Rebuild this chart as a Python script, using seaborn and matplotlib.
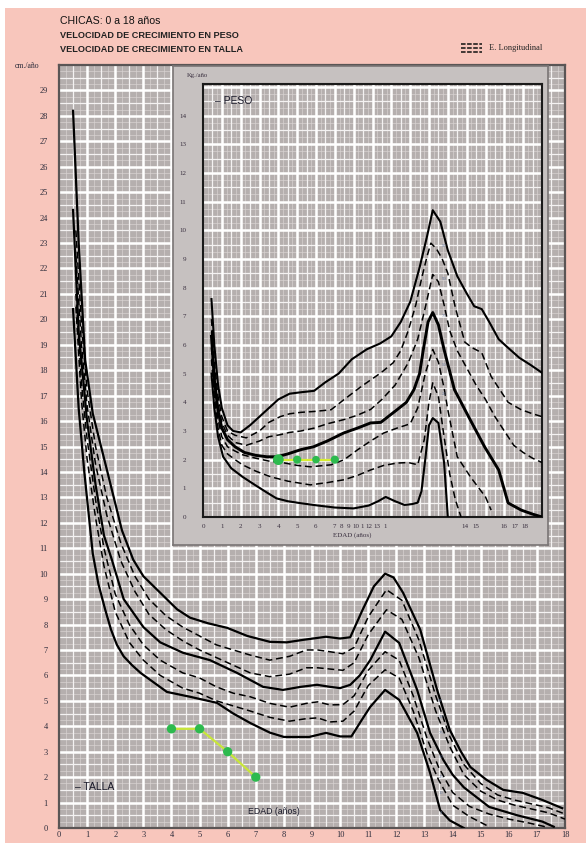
import numpy as np
import pandas as pd
import matplotlib
matplotlib.use("Agg")
import matplotlib.pyplot as plt
import seaborn as sns
from matplotlib.patches import Rectangle
from matplotlib.lines import Line2D

# ---- TALLA (cm/año), percentiles 97..3
talla_x97 = [0.5, 0.7, 0.93, 1.2, 1.7, 2.24, 2.64, 3.0, 3.6, 4.2, 4.66, 5.3, 5.98, 6.7, 7.5, 8.1, 8.7, 9.5, 10.0, 10.36, 10.8, 11.2, 11.6, 11.9, 12.24, 12.85, 13.45, 13.9, 14.3, 14.63, 15.2, 15.8, 16.5, 17.2, 17.9]
talla_y97 = [28.2, 23.0, 18.4, 16.3, 14.1, 11.7, 10.55, 9.9, 9.25, 8.6, 8.27, 8.05, 7.87, 7.55, 7.32, 7.3, 7.4, 7.52, 7.45, 7.5, 8.58, 9.5, 10.0, 9.85, 9.25, 7.8, 5.43, 3.86, 3.0, 2.4, 1.9, 1.5, 1.38, 1.1, 0.78]

talla_x90 = [0.6, 0.8, 1.0, 1.3, 1.7, 2.2, 2.7, 3.2, 3.8, 4.4, 5.0, 5.6, 6.2, 6.8, 7.5, 8.2, 8.8, 9.2, 9.64, 10.1, 10.5, 11.0, 11.65, 12.2, 12.8, 13.4, 13.9, 14.4, 15.0, 15.6, 16.2, 16.8, 17.4, 18.0]
talla_y90 = [23.5, 19.8, 17.2, 15.0, 13.0, 11.2, 9.9, 9.0, 8.35, 7.9, 7.55, 7.2, 7.0, 6.8, 6.6, 6.75, 7.0, 7.0, 6.93, 6.85, 7.1, 8.3, 9.37, 8.95, 7.4, 5.2, 3.6, 2.5, 1.75, 1.3, 1.1, 0.95, 0.8, 0.55]
talla_y75 = [22.5, 19.0, 16.6, 14.3, 12.3, 10.5, 9.3, 8.4, 7.8, 7.36, 7.0, 6.7, 6.4, 6.1, 5.95, 6.05, 6.3, 6.3, 6.25, 6.2, 6.5, 7.6, 8.58, 8.2, 6.7, 4.6, 3.2, 2.1, 1.45, 1.1, 0.9, 0.75, 0.6, 0.35]

talla_x50 = [0.5, 0.7, 1.0, 1.3, 1.6, 1.88, 2.3, 3.0, 3.6, 4.41, 5.37, 6.33, 7.26, 7.97, 8.6, 9.18, 9.64, 10.0, 10.36, 10.7, 11.07, 11.6, 12.1, 12.74, 13.2, 13.67, 14.0, 14.4, 15.3, 16.3, 17.2, 17.6]
talla_y50 = [24.3, 19.5, 16.0, 13.5, 11.5, 10.55, 9.0, 7.9, 7.3, 6.89, 6.6, 6.1, 5.55, 5.43, 5.55, 5.63, 5.55, 5.5, 5.63, 6.0, 6.6, 7.72, 7.28, 5.43, 3.74, 2.68, 2.1, 1.6, 0.83, 0.5, 0.25, 0.05]

talla_x25 = [0.6, 0.8, 1.0, 1.3, 1.6, 2.0, 2.5, 3.0, 3.6, 4.4, 5.0, 5.6, 6.2, 6.8, 7.5, 8.2, 8.8, 9.2, 9.64, 10.1, 10.5, 11.0, 11.6, 12.1, 12.6, 13.1, 13.5, 14.0, 14.6, 15.3, 16.0, 16.7, 17.3]
talla_y25 = [21.0, 17.5, 15.3, 12.9, 11.0, 9.2, 8.0, 7.2, 6.6, 6.1, 5.9, 5.55, 5.3, 5.16, 4.9, 4.75, 4.9, 4.96, 4.84, 4.85, 5.2, 6.2, 6.93, 6.6, 5.2, 3.5, 2.4, 1.4, 0.85, 0.55, 0.35, 0.2, 0.05]
talla_x10 = [0.6, 0.8, 1.0, 1.3, 1.6, 2.0, 2.5, 3.0, 3.6, 4.4, 5.0, 5.6, 6.2, 6.8, 7.5, 8.2, 8.8, 9.2, 9.64, 10.1, 10.5, 11.0, 11.6, 12.1, 12.6, 13.1, 13.5, 14.0, 14.6, 15.3]
talla_y10 = [20.5, 16.8, 14.5, 12.2, 10.3, 8.5, 7.3, 6.6, 6.0, 5.5, 5.3, 5.0, 4.8, 4.6, 4.35, 4.2, 4.3, 4.33, 4.17, 4.2, 4.6, 5.6, 6.22, 5.9, 4.6, 2.9, 1.9, 0.9, 0.45, 0.05]

talla_x3 = [0.5, 0.7, 0.9, 1.2, 1.4, 1.64, 1.85, 2.06, 2.3, 2.6, 2.9, 3.4, 3.84, 4.66, 5.62, 6.2, 6.8, 7.5, 8.0, 8.9, 9.5, 10.0, 10.4, 10.8, 11.07, 11.6, 12.1, 12.74, 13.2, 13.56, 13.9, 14.4]
talla_y3 = [20.4, 16.5, 14.0, 10.8, 9.6, 8.6, 7.8, 7.2, 6.75, 6.4, 6.1, 5.7, 5.35, 5.16, 4.92, 4.5, 4.13, 3.75, 3.58, 3.58, 3.74, 3.6, 3.6, 4.3, 4.76, 5.43, 5.04, 3.74, 2.17, 0.7, 0.3, 0.0]

# ---- PESO (kg/año)
peso_x97 = [0.45, 0.6, 0.8, 1.0, 1.3, 1.6, 2.0, 2.5, 3.0, 3.5, 4.0, 4.6, 5.2, 5.9, 6.5, 7.2, 7.9, 8.7, 9.4, 10.0, 10.5, 11.0, 11.5, 11.9, 12.2, 12.6, 13.0, 13.5, 14.0, 14.4, 14.8, 15.2, 15.7, 16.2, 16.8, 17.4, 18.0]
peso_y97 = [7.6, 6.0, 4.6, 3.8, 3.2, 3.0, 2.95, 3.2, 3.5, 3.8, 4.1, 4.3, 4.35, 4.4, 4.7, 5.0, 5.5, 5.85, 6.05, 6.3, 6.8, 7.5, 8.7, 9.8, 10.7, 10.3, 9.3, 8.4, 7.8, 7.35, 7.25, 6.8, 6.2, 5.9, 5.55, 5.3, 5.03]

peso_x90 = [0.45, 0.6, 0.8, 1.0, 1.3, 1.7, 2.3, 3.0, 3.5, 4.1, 4.6, 5.2, 5.9, 6.8, 7.5, 8.4, 9.45, 10.1, 10.5, 10.9, 11.3, 11.6, 11.9, 12.1, 12.4, 12.7, 13.0, 13.4, 13.9, 14.3, 14.8, 15.3, 15.8, 16.2, 16.9, 17.5, 18.0]
peso_y90 = [6.9, 5.4, 4.2, 3.5, 3.0, 2.85, 2.76, 3.0, 3.3, 3.5, 3.6, 3.65, 3.68, 3.74, 4.1, 4.55, 5.03, 5.38, 5.8, 6.5, 7.4, 8.3, 9.1, 9.55, 9.35, 9.0, 8.5, 7.3, 6.1, 5.9, 5.73, 4.9, 4.4, 4.0, 3.74, 3.6, 3.5]

peso_x75 = [0.45, 0.6, 0.8, 1.0, 1.3, 1.7, 2.3, 3.0, 3.5, 4.1, 4.6, 5.2, 5.9, 6.6, 7.5, 8.2, 8.9, 9.5, 10.2, 10.9, 11.4, 11.8, 12.2, 12.5, 12.8, 13.1, 13.5, 14.0, 14.5, 15.0, 15.5, 16.0, 16.5, 17.0, 17.5, 18.0]
peso_y75 = [6.5, 5.0, 3.9, 3.3, 2.85, 2.6, 2.5, 2.65, 2.8, 2.87, 2.95, 3.0, 3.1, 3.25, 3.4, 3.55, 3.75, 4.1, 4.6, 5.38, 6.2, 7.3, 8.46, 8.2, 7.4, 6.5, 5.8, 5.2, 4.6, 4.1, 3.5, 3.0, 2.5, 2.25, 2.05, 1.9]

peso_x50 = [0.45, 0.6, 0.8, 1.0, 1.3, 1.7, 2.2, 2.8, 3.4, 3.94, 4.5, 5.2, 5.87, 6.6, 7.47, 8.2, 8.9, 9.44, 10.3, 10.8, 11.2, 11.5, 11.7, 11.95, 12.2, 12.5, 12.8, 13.35, 14.1, 14.95, 15.7, 16.2, 16.9, 17.5, 18.0]
peso_y50 = [6.3, 4.8, 3.7, 3.1, 2.7, 2.45, 2.25, 2.15, 2.1, 2.1, 2.2, 2.35, 2.45, 2.65, 2.93, 3.1, 3.28, 3.3, 3.74, 4.0, 4.44, 5.0, 5.84, 6.8, 7.13, 6.7, 5.84, 4.44, 3.5, 2.45, 1.64, 0.49, 0.24, 0.1, 0.0]

peso_x25 = [0.45, 0.6, 0.8, 1.0, 1.3, 1.7, 2.1, 2.8, 3.5, 4.2, 5.0, 5.7, 6.8, 7.5, 8.2, 8.9, 9.6, 10.3, 11.0, 11.4, 11.8, 12.2, 12.5, 12.8, 13.0, 13.5, 14.2, 15.0, 15.3]
peso_y25 = [5.9, 4.5, 3.4, 2.8, 2.45, 2.3, 2.17, 2.05, 1.95, 1.9, 1.8, 1.75, 1.82, 2.0, 2.34, 2.65, 2.93, 3.1, 3.25, 3.8, 5.0, 5.84, 5.4, 4.5, 3.74, 2.1, 1.4, 0.7, 0.24]

peso_x10 = [0.45, 0.6, 0.8, 1.0, 1.3, 1.7, 2.1, 2.8, 3.6, 4.5, 5.7, 6.6, 7.5, 8.2, 8.9, 9.6, 10.3, 10.9, 11.4, 11.75, 12.0, 12.2, 12.5, 12.8, 13.1, 13.4, 13.7]
peso_y10 = [5.5, 4.2, 3.1, 2.5, 2.2, 2.0, 1.82, 1.6, 1.4, 1.25, 1.12, 1.2, 1.3, 1.45, 1.64, 1.8, 1.88, 1.9, 1.82, 2.7, 4.0, 4.68, 4.2, 2.8, 1.5, 0.6, 0.0]

peso_x3 = [0.45, 0.6, 0.8, 1.07, 1.5, 2.1, 2.8, 3.4, 3.9, 4.5, 5.2, 6.1, 7.0, 8.0, 8.8, 9.3, 9.7, 10.2, 10.7, 11.1, 11.4, 11.6, 11.8, 12.0, 12.2, 12.5, 12.8, 13.0]
peso_y3 = [5.0, 3.8, 2.8, 2.1, 1.7, 1.4, 1.1, 0.85, 0.65, 0.55, 0.48, 0.4, 0.33, 0.3, 0.4, 0.55, 0.7, 0.55, 0.42, 0.45, 0.5, 0.9, 2.0, 3.2, 3.45, 3.28, 1.9, 0.0]

# patient (green) points
talla_pac_x = [4, 5, 6, 7]
talla_pac_y = [3.9, 3.9, 3.0, 2.0]
peso_pac_x = [4, 5, 6, 7]
peso_pac_y = [2.0, 2.0, 2.0, 2.0]

# percentile labels
pct_labels = ["97", "90", "75", "50", "25", "10", "3"]
talla_lab_y = [5.0, 4.37, 3.74, 2.8, 2.0, 1.38, 0.6]
peso_lab_txt = ["97", "90", "75", "50", "25"]
peso_lab_y = [9.45, 8.3, 7.0, 5.3, 4.3]

# inset tick labels (as printed)
peso_tick_pos = [0, 1, 2, 3, 4, 5, 6, 7, 7.38, 7.72, 8.1, 8.45, 8.8, 9.25, 9.7, 13.9, 14.5, 16.0, 16.55, 17.1]
peso_tick_lab = ["0", "1", "2", "3", "4", "5", "6", "7", "8", "9", "10", "1", "12", "13", "1", "14", "15", "16", "17", "18"]

PINK = "#F8C6BC"
GREY = "#B5AFAE"
PANEL = "#C6C1C0"
SERIF = "Liberation Serif"
SANS = "Liberation Sans"

fig = plt.figure(figsize=(5.86, 8.43), dpi=100)
fig.patch.set_facecolor("white")
fig.add_artist(Rectangle((5 / 586, 0), 1, 1 - 8 / 843, transform=fig.transFigure,
                         facecolor=PINK, edgecolor="none", zorder=-10))


def style_grid(ax, xmax, ymax):
    # paper grid: thin every 0.25, medium every 0.5, thick every unit
    ax.set_xlim(0, xmax)
    ax.set_ylim(0, ymax)
    ax.set_facecolor(GREY)
    for step, col, lw in ((0.25, "#DAD5D4", 0.45), (0.5, "#F4F2F2", 0.9), (1.0, "white", 1.8)):
        for v in np.arange(step, xmax, step):
            ax.axvline(v, color=col, lw=lw, zorder=0.5)
        for v in np.arange(step, ymax, step):
            ax.axhline(v, color=col, lw=lw, zorder=0.5)
    ax.tick_params(which="both", length=0)
    ax.set_xlabel("")
    ax.set_ylabel("")


def draw_curves(ax, curves):
    for xs, ys, ls, lw in curves:
        sns.lineplot(x=xs, y=ys, ax=ax, color="black", lw=lw, linestyle=ls,
                     sort=False, estimator=None, zorder=3)
    for ln in ax.lines:
        if ln.get_linestyle() == "--":
            ln.set_dashes((4.5, 2.5))


# ---- main chart (TALLA)
ax = fig.add_axes([59 / 586, 15 / 843, 506 / 586, 763 / 843])
talla_curves = [
    (talla_x97, talla_y97, "-", 1.6),
    (talla_x90, talla_y90, "--", 1.1),
    (talla_x90, talla_y75, "--", 1.1),
    (talla_x50, talla_y50, "-", 1.6),
    (talla_x25, talla_y25, "--", 1.1),
    (talla_x10, talla_y10, "--", 1.1),
    (talla_x3, talla_y3, "-", 1.6),
]
draw_curves(ax, talla_curves)
style_grid(ax, 18, 30)
ax.set_xticks(range(0, 19))
ax.set_yticks(range(0, 30))
ax.tick_params(axis="both", labelsize=6, colors="#2b2b3a")
ax.tick_params(axis="x", pad=2.5)
ax.tick_params(axis="y", pad=8)
for lab in ax.get_xticklabels() + ax.get_yticklabels():
    lab.set_family(SERIF)
for s in ax.spines.values():
    s.set_color("#5a5555")
    s.set_linewidth(1.6)

sns.lineplot(x=talla_pac_x, y=talla_pac_y, ax=ax, color="#C8E63A", lw=1.6,
             sort=False, estimator=None, zorder=4)
sns.scatterplot(x=talla_pac_x, y=talla_pac_y, ax=ax, color="#2DBA4E", s=45,
                edgecolor="none", zorder=5)

for t, yv in zip(pct_labels, talla_lab_y):
    ax.text(13.58, yv, t, fontsize=3.3, color="#6b7da0", family=SERIF,
            ha="center", va="center", zorder=6)

ax.text(0.57, 1.6, "– TALLA", fontsize=7.5, family=SANS, color="#1a1a2a",
        va="center", ha="left")
ax.text(7.65, 0.63, "EDAD (años)", fontsize=6.3, family=SANS, color="#1a1a2a",
        va="center", ha="center")

# ---- inset panel
panel = fig.add_axes([173 / 586, 1 - 545 / 843, 375 / 586, 479 / 843])
panel.set_facecolor(PANEL)
panel.set_xticks([])
panel.set_yticks([])
for s in panel.spines.values():
    s.set_color("#7a7575")
    s.set_linewidth(1.2)

ins = fig.add_axes([203 / 586, 1 - 517 / 843, 339 / 586, 433 / 843])
peso_curves = [
    (peso_x97, peso_y97, "-", 1.5),
    (peso_x90, peso_y90, "--", 1.1),
    (peso_x75, peso_y75, "--", 1.1),
    (peso_x50, peso_y50, "-", 2.1),
    (peso_x25, peso_y25, "--", 1.1),
    (peso_x10, peso_y10, "--", 1.1),
    (peso_x3, peso_y3, "-", 1.5),
]
draw_curves(ins, peso_curves)
style_grid(ins, 18, 15.1)
ins.set_yticks(range(0, 15))
ins.set_xticks(peso_tick_pos)
ins.set_xticklabels(peso_tick_lab)
ins.tick_params(axis="both", labelsize=5, colors="#3a3040", pad=5)
ins.tick_params(axis="y", pad=12)
for lab in ins.get_xticklabels() + ins.get_yticklabels():
    lab.set_family(SERIF)
for s in ins.spines.values():
    s.set_color("#1a1a1a")
    s.set_linewidth(1.5)

sns.lineplot(x=peso_pac_x, y=peso_pac_y, ax=ins, color="#D8EE30", lw=1.6,
             sort=False, estimator=None, zorder=4)
sns.scatterplot(x=peso_pac_x, y=peso_pac_y, ax=ins, color="#2DBA4E",
                size=[60, 35, 30, 35], sizes=(30, 60), legend=False,
                edgecolor="none", zorder=5)

for t, yv in zip(peso_lab_txt, peso_lab_y):
    ins.text(12.8, yv, t, fontsize=3.3, color="#6b7da0", family=SERIF,
             ha="center", va="center", zorder=6)

ins.text(0.64, 14.5, "– PESO", fontsize=7.5, family=SANS, color="#1a1a2a",
         va="center", ha="left")
fig.text(352 / 586, 1 - 535 / 843, "EDAD (años)", fontsize=5, family=SERIF,
         color="#3a3040", ha="center", va="center")
fig.text(187 / 586, 1 - 76 / 843, "Kg./año", fontsize=4.8, family=SERIF,
         color="#3a3040", ha="left", va="center")

# ---- header texts
fig.text(60 / 586, 1 - 21 / 843, "CHICAS: 0 a 18 años", fontsize=7.6,
         family=SANS, color="#111111", va="center")
fig.text(60 / 586, 1 - 36 / 843, "VELOCIDAD DE CRECIMIENTO EN PESO", fontsize=6.6,
         family=SANS, weight="bold", color="#222222", va="center")
fig.text(60 / 586, 1 - 49 / 843, "VELOCIDAD DE CRECIMIENTO EN TALLA", fontsize=6.6,
         family=SANS, weight="bold", color="#222222", va="center")
fig.text(15 / 586, 1 - 66 / 843, "cm./año", fontsize=5.6, family=SERIF,
         color="#2b2b3a", va="center")

# legend
for yy in (44, 48, 52):
    fig.add_artist(Line2D([461 / 586, 482 / 586], [1 - yy / 843, 1 - yy / 843],
                          transform=fig.transFigure, color="#111111", lw=1.1,
                          dashes=(3, 1)))
fig.text(489 / 586, 1 - 48 / 843, "E. Longitudinal", fontsize=6, family=SERIF,
         color="#222222", va="center")

fig.savefig("out.png", dpi=100)
